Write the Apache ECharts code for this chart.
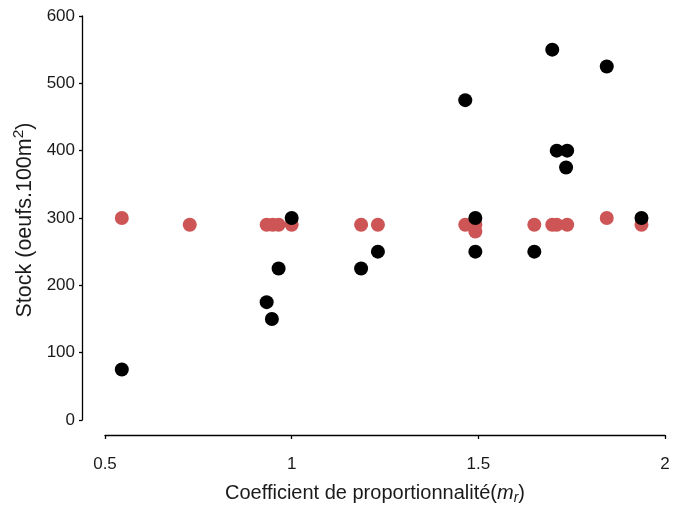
<!DOCTYPE html>
<html><head><meta charset="utf-8">
<script src="https://cdn.jsdelivr.net/npm/echarts@6/dist/echarts.min.js"></script>
<style>html,body{margin:0;padding:0;background:#fff}#c{width:684px;height:507px}</style>
</head><body><div id="c"></div>
<script>
var blackX = [0.545, 0.933, 0.947, 0.965, 1.0, 1.186, 1.231, 1.465, 1.492, 1.492, 1.65, 1.698, 1.71, 1.738, 1.735, 1.844, 1.937];
var blackY = [75, 175, 150, 225, 300, 225, 250, 475, 300, 250, 250, 550, 400, 400, 375, 525, 300];
var redX = [0.545, 0.727, 0.933, 0.949, 0.965, 1.0, 1.186, 1.231, 1.465, 1.492, 1.492, 1.65, 1.698, 1.71, 1.738, 1.844, 1.937];
var redY = [300, 290, 290, 290, 290, 290, 290, 290, 290, 290, 280, 290, 290, 290, 290, 300, 290];
var xTicks = [0.5, 1, 1.5, 2];
var yTicks = [0, 100, 200, 300, 400, 500, 600];

function zip(a, b) { return a.map(function (v, i) { return [v, b[i]]; }); }
var font = 'Liberation Sans, Arial, sans-serif';
var tc = '#1a1a1a';
var chart = echarts.init(document.getElementById('c'), null, {renderer: 'canvas'});
chart.setOption({
  animation: false,
  backgroundColor: '#fff',
  grid: {left: 105, right: 19, top: 16, bottom: 87, containLabel: false, outerBoundsMode: 'none'},
  xAxis: {
    type: 'value', min: 0.5, max: 2, interval: 0.5, offset: 15,
    splitLine: {show: false},
    axisLine: {show: true, onZero: false, lineStyle: {color: '#000', width: 1.3}},
    axisTick: {show: true, length: 4, lineStyle: {color: '#000', width: 1.3}},
    axisLabel: {color: tc, fontSize: 17, fontFamily: font, margin: 21,
      formatter: function (v) { return xTicks.indexOf(v) >= 0 ? String(v) : ''; }},
    name: '{n|Coefficient de proportionnalité(}{it|m}{sub|r}{n|)}',
    nameLocation: 'middle', nameGap: 47,
    nameTextStyle: {fontFamily: font, fontSize: 20, color: tc, padding: [0, 20, 0, 0],
      rich: {
        n: {fontFamily: font, fontSize: 20, color: tc},
        it: {fontFamily: font, fontSize: 20, fontStyle: 'italic', color: tc},
        sub: {fontFamily: font, fontSize: 14, fontStyle: 'italic', color: tc, padding: [9, 0, 0, 0]}
      }}
  },
  yAxis: {
    type: 'value', min: 0, max: 600, interval: 100, offset: 23,
    splitLine: {show: false},
    axisLine: {show: true, onZero: false, lineStyle: {color: '#000', width: 1.3}},
    axisTick: {show: true, length: 3, lineStyle: {color: '#000', width: 1.3}},
    axisLabel: {color: tc, fontSize: 17, fontFamily: font, margin: 7,
      formatter: function (v) { return yTicks.indexOf(v) >= 0 ? String(v) : ''; }},
    name: '{n|Stock (oeufs.100m}{sup|2}{n|)}',
    nameLocation: 'middle', nameGap: 41, nameRotate: 90,
    nameTextStyle: {fontFamily: font, fontSize: 21.5, color: tc, padding: [0, 4, 0, 0],
      rich: {
        n: {fontFamily: font, fontSize: 21.5, color: tc},
        sup: {fontFamily: font, fontSize: 15.5, color: tc, padding: [0, 0, 12, 0]}
      }}
  },
  series: [
    {type: 'scatter', data: zip(redX, redY), symbol: 'circle', symbolSize: 14,
      itemStyle: {color: '#CD5555', opacity: 1}, z: 2},
    {type: 'scatter', data: zip(blackX, blackY), symbol: 'circle', symbolSize: 14,
      itemStyle: {color: '#000', opacity: 1}, z: 3}
  ]
});
</script></body></html>
